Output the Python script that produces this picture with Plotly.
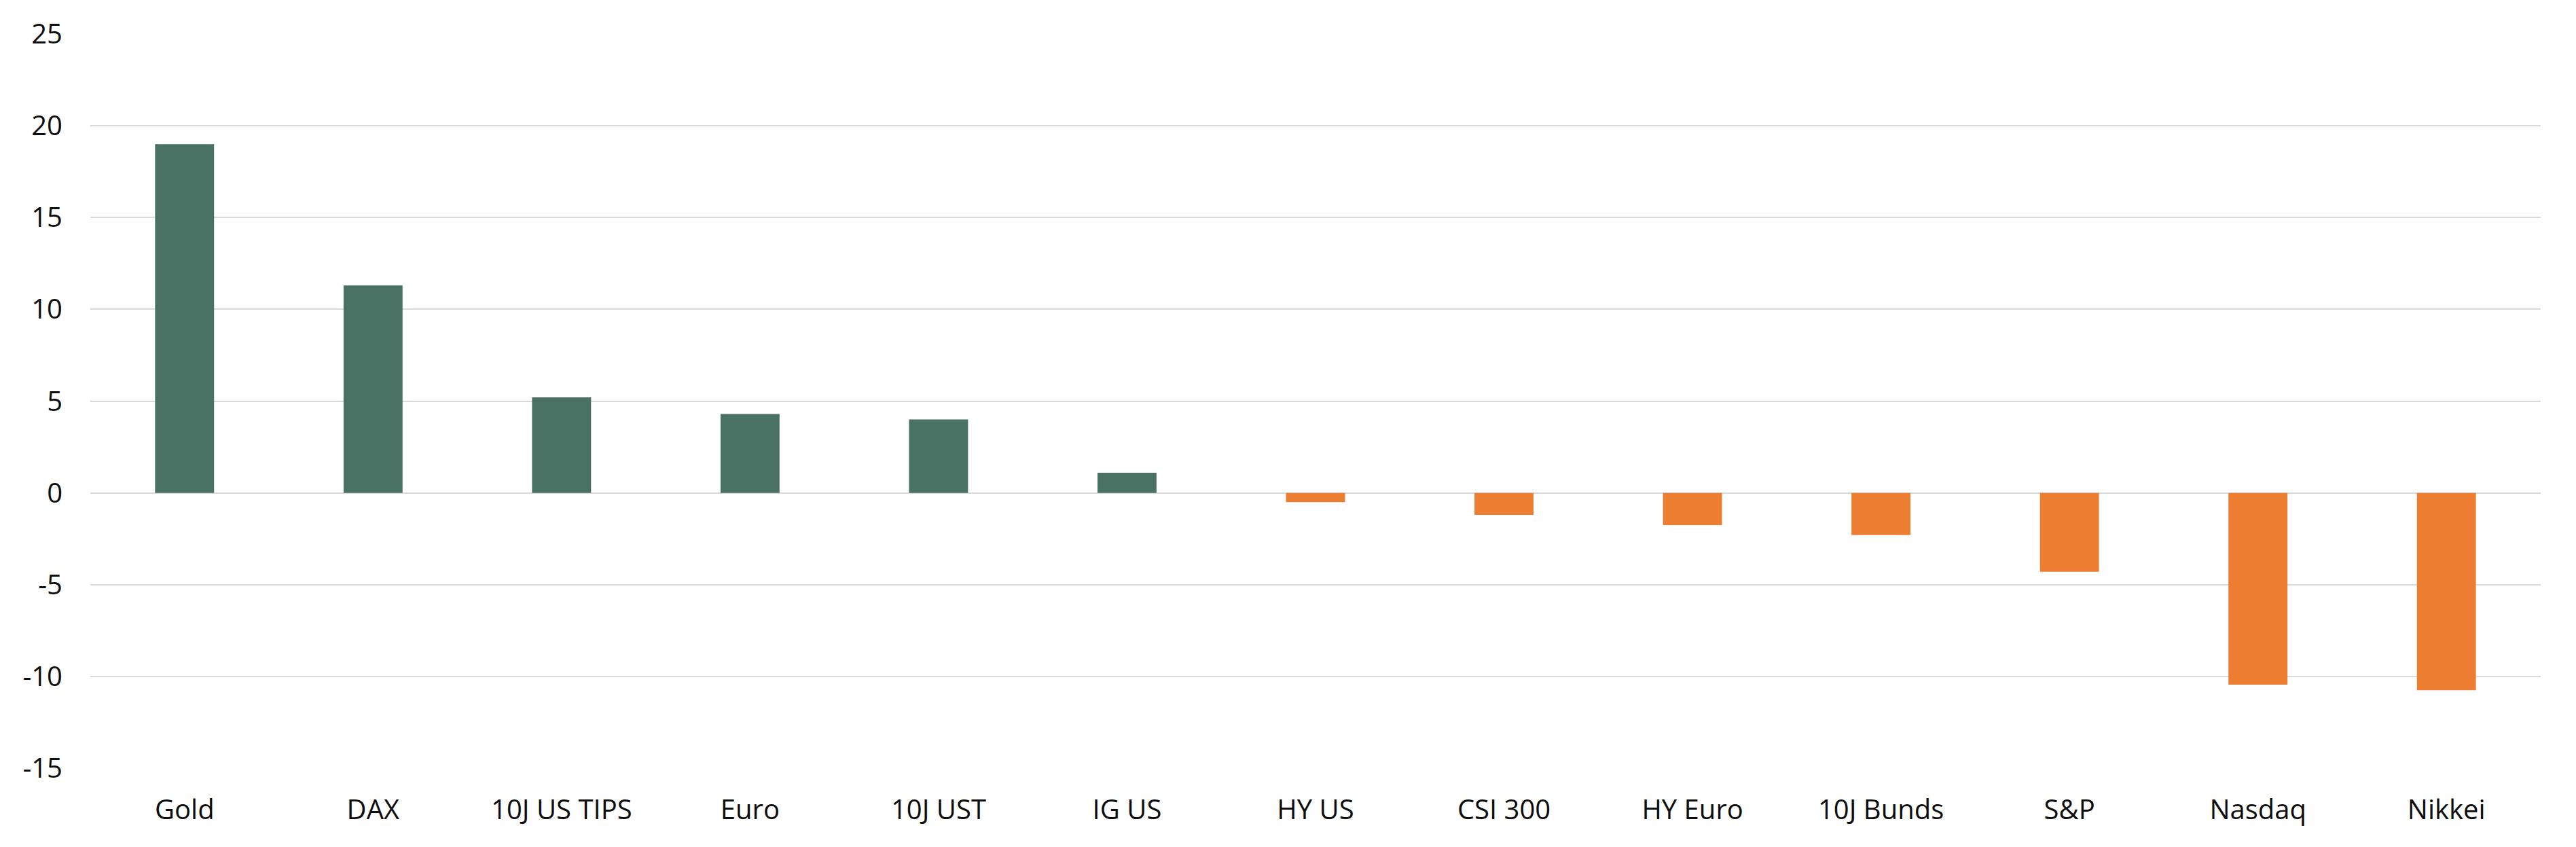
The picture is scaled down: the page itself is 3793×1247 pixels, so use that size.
import plotly.graph_objects as go

categories = ["Gold", "DAX", "10J US TIPS", "Euro", "10J UST", "IG US", "HY US",
              "CSI 300", "HY Euro", "10J Bunds", "S&P", "Nasdaq", "Nikkei"]
values = [19.0, 11.3, 5.2, 4.3, 4.0, 1.1, -0.5, -1.2, -1.75, -2.3, -4.3, -10.45, -10.75]
y_ticks = [-15, -10, -5, 0, 5, 10, 15, 20, 25]
y_tick_labels = ["-15", "-10", "-5", "0", "5", "10", "15", "20", "25"]

GREEN = "#4A7264"
ORANGE = "#ED7D31"
colors = [GREEN if v >= 0 else ORANGE for v in values]

fig = go.Figure(go.Bar(x=categories, y=values, marker=dict(color=colors, line=dict(width=0))))

# page body has an 8px default margin; size the figure to fit the window exactly
fig.update_layout(
    width=3777, height=1231,
    margin=dict(l=125, r=44, t=42, b=108),
    paper_bgcolor="white", plot_bgcolor="white",
    bargap=0.687,
    showlegend=False,
    font=dict(family="Open Sans", size=40, color="#0D0D0D"),
)
fig.update_xaxes(showgrid=False, showline=False, ticks="", ticklabelstandoff=34,
                 tickfont=dict(size=40))
fig.update_yaxes(range=[-15, 25], tickvals=y_ticks, ticktext=y_tick_labels,
                 showgrid=True, gridcolor="#D9D9D9",
                 gridwidth=2, zeroline=True, zerolinecolor="#D9D9D9", zerolinewidth=2,
                 showline=False, ticks="", ticklabelstandoff=40, tickfont=dict(size=40))

fig.write_html("out.html")
